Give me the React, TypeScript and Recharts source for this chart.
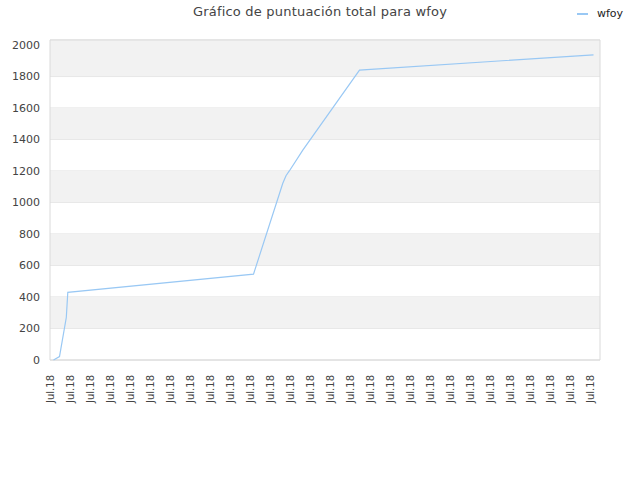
import React from 'react';
import {
  LineChart,
  Line,
  XAxis,
  YAxis,
  CartesianGrid,
  ReferenceArea,
} from 'recharts';

// Position along the time axis (in sample units) and total score at each vertex
const steps = [1.75, 4.75, 8.15, 8.9, 101.75, 116.4, 118, 119.75, 126.4, 154.75, 271.75];
const scores = [0, 22, 270, 430, 545, 1122, 1170, 1202, 1333, 1841, 1938];

const yTicks = [0, 200, 400, 600, 800, 1000, 1200, 1400, 1600, 1800, 2000];
const xTicks = Array.from({ length: 28 }, (_, k) => k * 10);
const xLabel = 'Jul.18';
const seriesName = 'wfoy';
const title = 'Gráfico de puntuación total para wfoy';

const Y_MAX = 2032;
const X_MAX = 275;
const LINE_COLOR = '#99c8f4';
const FONT = '"DejaVu Sans", sans-serif';

const data = steps.map((step, i) => ({ step, score: scores[i] }));

// alternating gray bands: 200-400, 600-800, ..., 1800-top
const bands = yTicks
  .map((t, i) => ({ y1: t, y2: i + 1 < yTicks.length ? yTicks[i + 1] : Y_MAX, odd: i % 2 === 1 }))
  .filter((b) => b.odd || b.y1 === 2000);

function XTick({ x, y }: any) {
  return (
    <text
      x={0}
      y={0}
      transform={`translate(${x + 3.5},${y + 7}) rotate(-90)`}
      textAnchor="end"
      fontSize={10}
      fontFamily={FONT}
      fill="#444"
    >
      {xLabel}
    </text>
  );
}

export default function App() {
  return (
    <div style={{ position: 'absolute', left: 0, top: 0, width: 640, height: 480, background: '#fff' }}>
      <div
        style={{
          position: 'absolute',
          top: 4,
          left: 0,
          width: 640,
          textAlign: 'center',
          fontFamily: FONT,
          fontSize: 13,
          letterSpacing: 0.2,
          color: '#444',
        }}
      >
        {title}
      </div>
      <div
        style={{
          position: 'absolute',
          top: 7,
          left: 577,
          display: 'flex',
          alignItems: 'center',
          fontFamily: FONT,
          fontSize: 11,
          color: '#222',
        }}
      >
        <span style={{ display: 'inline-block', width: 11, height: 2, background: LINE_COLOR, marginRight: 9 }} />
        {seriesName}
      </div>
      <LineChart width={640} height={480} data={data} margin={{ top: 40, right: 40, left: 0, bottom: 0 }}>
        {bands.map((b) => (
          <ReferenceArea key={b.y1} x1={0} x2={X_MAX} y1={b.y1} y2={b.y2} fill="#f2f2f2" fillOpacity={1} stroke="none" />
        ))}
        <CartesianGrid vertical={false} stroke="#dedede" />
        <ReferenceArea x1={0} x2={X_MAX} y1={0} y2={Y_MAX} fill="none" stroke="#dadada" strokeWidth={1} />
        <XAxis
          type="number"
          dataKey="step"
          domain={[0, X_MAX]}
          ticks={xTicks}
          interval={0}
          height={120}
          axisLine={false}
          tickLine={false}
          tick={<XTick />}
        />
        <YAxis
          type="number"
          domain={[0, Y_MAX]}
          ticks={yTicks}
          width={50}
          axisLine={false}
          tickLine={false}
          tickSize={0}
          tickMargin={10}
          tick={{ fontSize: 11, fontFamily: FONT, fill: '#444' }}
        />
        <Line
          type="linear"
          dataKey="score"
          name={seriesName}
          stroke={LINE_COLOR}
          strokeWidth={1.2}
          dot={false}
          isAnimationActive={false}
        />
      </LineChart>
    </div>
  );
}
